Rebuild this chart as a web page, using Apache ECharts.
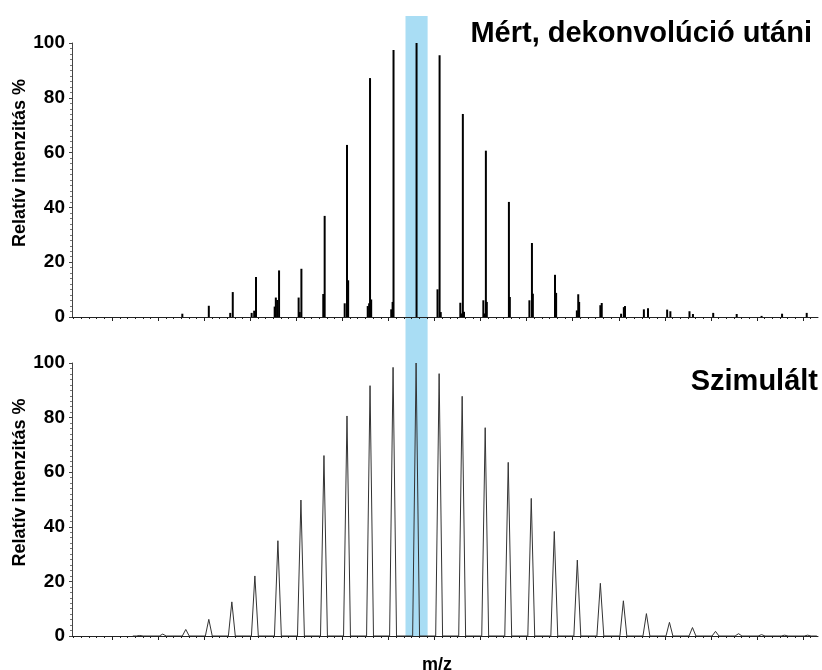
<!DOCTYPE html>
<html>
<head>
<meta charset="utf-8">
<script src="https://cdn.jsdelivr.net/npm/echarts@6/dist/echarts.min.js"></script>
<style>
html,body{margin:0;padding:0;background:#fff;}
#chart{width:822px;height:670px;}
</style>
</head>
<body>
<div id="chart"></div>
<script>
// ---- Data ----
// Measured (deconvoluted) stick spectrum: m/z positions and relative intensities
const measuredMz = [
  23451.05, 23452.20, 23453.13, 23453.24, 23454.06, 23454.17, 23454.25,
  23455.06, 23455.11, 23455.17, 23455.25, 23456.10, 23456.15, 23456.22,
  23457.17, 23457.23, 23458.10, 23458.20, 23458.25, 23459.10, 23459.16,
  23459.20, 23459.25, 23460.12, 23460.18, 23460.22, 23461.22, 23462.13,
  23462.22, 23462.27, 23463.12, 23463.17, 23463.23, 23463.28, 23464.12,
  23464.17, 23464.23, 23464.27, 23465.23, 23465.27, 23466.12, 23466.23,
  23466.27, 23467.23, 23467.28, 23468.18, 23468.24, 23468.28, 23469.20,
  23469.26, 23470.10, 23470.22, 23470.27, 23471.09, 23471.27, 23472.10,
  23472.24, 23473.07, 23473.22, 23474.10, 23475.12, 23476.20, 23477.09,
  23478.16
];
const measuredIntensity = [
  1.2, 4.1, 1.5, 9.1, 1.5, 2.3, 14.6,
  3.8, 7.1, 6.2, 17.0, 7.1, 1.8, 17.6,
  8.4, 36.9, 5.0, 62.8, 13.4, 4.0, 5.0,
  87.2, 6.4, 2.8, 5.5, 97.4, 100, 10.1,
  95.5, 1.8, 5.2, 1.3, 74.1, 1.9, 6.1,
  1.3, 60.7, 5.5, 42.0, 7.3, 6.1, 27.0,
  8.5, 15.4, 8.8, 2.4, 8.3, 5.5, 4.3,
  5.1, 1.2, 3.6, 4.0, 2.8, 3.2, 2.7,
  2.1, 2.1, 1.1, 1.5, 1.1, 0.4, 1.2,
  1.5
];
// Simulated profile spectrum: peak centres and heights
const simulatedMz = [
  23449.2, 23450.2, 23451.2, 23452.2, 23453.2, 23454.2, 23455.2, 23456.2,
  23457.2, 23458.2, 23459.2, 23460.2, 23461.2, 23462.2, 23463.2, 23464.2,
  23465.2, 23466.2, 23467.2, 23468.2, 23469.2, 23470.2, 23471.2, 23472.2,
  23473.2, 23474.2, 23475.2, 23476.2, 23477.2, 23478.2
];
const simulatedIntensity = [
  0.2, 0.7, 2.4, 6.1, 12.5, 22.0, 34.9, 49.8,
  66.1, 80.6, 91.7, 98.4, 100, 96.1, 87.8, 76.3,
  63.6, 50.4, 38.3, 27.8, 19.3, 12.9, 8.2, 5.0,
  3.1, 1.7, 0.85, 0.5, 0.3, 0.3
];
const simulatedStart = 23448.9;   // where the simulated trace begins
const simulatedEnd = 23478.6;
const peakHalfBase = 0.15;        // half base width of a simulated peak (m/z)
// Highlighted m/z window
const highlightRange = [23460.74, 23461.70];
// Axis ranges and ticks
const mzMin = 23446.26, mzMax = 23478.65;
const yTicks = [0, 20, 40, 60, 80, 100];
const majorTicks = [];
for (let v = 23448; v <= 23478; v += 2) majorTicks.push(v);
const minorTicks = [];
for (let i = -5; i <= 92; i++) {
  const v = 23448 + i / 3;
  if (i % 6 !== 0 && v >= mzMin && v <= mzMax) minorTicks.push(+v.toFixed(4));
}
const titleTop = 'Mért, dekonvolúció utáni';
const titleBottom = 'Szimulált';
const yName = 'Relatív intenzitás %';
const xName = 'm/z';

// ---- Build series data ----
const stickData = measuredMz.map((x, i) => [x, measuredIntensity[i]]);
const profileData = [[simulatedStart, 0]];
simulatedMz.forEach((c, i) => {
  profileData.push([c - peakHalfBase, 0], [c, simulatedIntensity[i]], [c + peakHalfBase, 0]);
});
profileData.push([simulatedEnd, 0]);

const FONT = 'Liberation Sans, Arial, sans-serif';
const axisColor = '#222';

function majorX(grid, withName) {
  return {
    type: 'value', gridIndex: grid, min: mzMin, max: mzMax, position: 'bottom', z: 5,
    axisLine: { show: true, onZero: false, lineStyle: { color: axisColor, width: 1 } },
    axisTick: { show: true, customValues: majorTicks, length: 4, lineStyle: { color: axisColor } },
    axisLabel: { show: false },
    splitLine: { show: false },
    name: withName ? xName : '',
    nameLocation: 'middle', nameGap: 20, nameMoveOverlap: false,
    nameTextStyle: { fontFamily: FONT, fontWeight: 'bold', fontSize: 18, color: '#000', padding: [0, 16, 0, 0] }
  };
}
function minorX(grid) {
  return {
    type: 'value', gridIndex: grid, min: mzMin, max: mzMax, position: 'bottom', z: 5,
    axisLine: { show: false, onZero: false },
    axisTick: { show: true, customValues: minorTicks, length: 2, lineStyle: { color: axisColor } },
    axisLabel: { show: false },
    splitLine: { show: false }
  };
}
function yAx(grid) {
  return {
    type: 'value', gridIndex: grid, min: 0, max: 100, interval: 20, z: 5,
    axisLine: { show: true, lineStyle: { color: '#444', width: 1 } },
    axisTick: { show: true, length: 3, lineStyle: { color: '#444' } },
    minorTick: { show: true, splitNumber: 10, length: 2, lineStyle: { color: '#777' } },
    axisLabel: {
      margin: 7, fontFamily: FONT, fontWeight: 'bold', fontSize: 19, color: '#000',
      customValues: yTicks
    },
    splitLine: { show: false },
    name: yName, nameLocation: 'middle', nameGap: 43, nameMoveOverlap: false,
    nameTextStyle: { fontFamily: FONT, fontWeight: 'bold', fontSize: 18, color: '#000', padding: [0, 0, 0, 34] }
  };
}

const chart = echarts.init(document.getElementById('chart'), null, { renderer: 'canvas' });
chart.setOption({
  animation: false,
  backgroundColor: '#fff',
  title: [
    { text: titleTop, right: 10, top: 19, padding: 0,
      textStyle: { fontFamily: FONT, fontWeight: 'bold', fontSize: 29, color: '#000' } },
    { text: titleBottom, right: 4, top: 367, padding: 0,
      textStyle: { fontFamily: FONT, fontWeight: 'bold', fontSize: 29, color: '#000' } }
  ],
  grid: [
    { left: 72, right: 4, top: 43, height: 274, outerBoundsMode: 'none', containLabel: false },
    { left: 72, right: 4, top: 363, height: 273, outerBoundsMode: 'none', containLabel: false },
    { left: 72, right: 4, top: 16, height: 620, outerBoundsMode: 'none', containLabel: false }
  ],
  xAxis: [
    majorX(0, false), minorX(0),
    majorX(1, true), minorX(1),
    { type: 'value', gridIndex: 2, min: mzMin, max: mzMax, show: false }
  ],
  yAxis: [
    yAx(0), yAx(1),
    { type: 'value', gridIndex: 2, min: 0, max: 1, show: false }
  ],
  series: [
    {
      name: 'highlight', type: 'line', xAxisIndex: 4, yAxisIndex: 2, data: [],
      markArea: {
        silent: true, z: 1,
        label: { show: false },
        itemStyle: { color: '#A9DDF4' },
        data: [[{ xAxis: highlightRange[0] }, { xAxis: highlightRange[1] }]]
      }
    },
    {
      name: titleTop, type: 'bar', xAxisIndex: 0, yAxisIndex: 0,
      data: stickData, barWidth: 2, z: 3,
      itemStyle: { color: '#000' }
    },
    {
      name: titleBottom, type: 'line', xAxisIndex: 2, yAxisIndex: 1,
      data: profileData, showSymbol: false, symbol: 'none', smooth: false, z: 3,
      lineStyle: { color: '#333', width: 1 }
    }
  ]
});
</script>
</body>
</html>
